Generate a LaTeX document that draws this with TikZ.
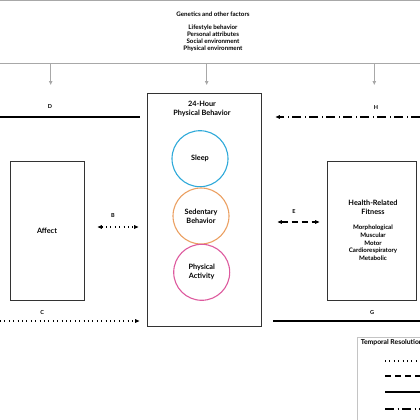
\documentclass[tikz,border=0pt]{standalone}
\usepackage{fontspec}
\setmainfont{Lato}
\usetikzlibrary{arrows.meta,positioning}
\definecolor{FrameGray}{HTML}{333333}
\definecolor{RuleGray}{HTML}{A8A8A8}
\definecolor{LegendGray}{HTML}{C4C4C4}
\definecolor{SleepBlue}{HTML}{2EA9D9}
\definecolor{SedentaryOrange}{HTML}{EBA062}
\definecolor{ActivityPink}{HTML}{DD5A9E}
\tikzset{
  pbox/.style={draw=FrameGray,line width=0.9pt,inner sep=0pt},
  behav/.style={circle,line width=1.1pt,minimum size=56pt,inner sep=0pt,
    align=center,font=\bfseries\fontsize{7.3}{9}\selectfont},
  ttl/.style={align=center,font=\bfseries\fontsize{7.3}{8.8}\selectfont},
  small/.style={align=center,font=\bfseries\fontsize{6.2}{7.1}\selectfont},
  lbl/.style={font=\bfseries\fontsize{5.5}{6}\selectfont},
  link/.style={line width=1.1pt,black},
  oneway/.style={-{Triangle[length=4.5pt,width=3.6pt]}},
  twoway/.style={{Triangle[length=4.5pt,width=3.6pt]}-{Triangle[length=4.5pt,width=3.6pt]}},
  dotline/.style={dash pattern=on 0.9pt off 3.5pt},
  dashline/.style={dash pattern=on 6pt off 4pt},
  dashdotline/.style={dash pattern=on 9pt off 3.5pt on 1pt off 3.5pt},
  factor/.style={RuleGray,line width=0.9pt,-{Triangle[length=4pt,width=3.4pt]}}
}

\begin{document}
\begin{tikzpicture}[x=1pt,y=-1pt]
  \useasboundingbox (0,0) rectangle (420,420);
  \clip (0,0) rectangle (420,420);

  % influencing factors along the top
  \draw[RuleGray,line width=0.8pt] (0,0.7) -- (420,0.7);
  \node[small] (genetics) at (213,14) {Genetics and other factors};
  \node[small] (factors) at (213,38.5)
    {Lifestyle behavior\\Personal attributes\\Social environment\\Physical environment};
  \draw[RuleGray,line width=1pt] (0,63.3) -- (420,63.3);
  \foreach \fx in {50.7,206.7,374.3}
    \draw[factor] (\fx,63.3) -- (\fx,85);

  % the three boxes
  \node[pbox,minimum width=114pt,minimum height=233pt] (behavior) at (204,209.5) {};
  \node[ttl] (behaviortitle) at (202,109) {24-Hour\\Physical Behavior};
  \node[behav,draw=SleepBlue] (sleep) at (200,158.7) {Sleep};
  \node[behav,draw=SedentaryOrange] (sedentary) at (201,216) {Sedentary\\Behavior};
  \node[behav,draw=ActivityPink] (activity) at (201.7,272.3) {Physical\\Activity};

  \node[pbox,minimum width=74pt,minimum height=139pt] (affect) at (47,230.5) {};
  \node[ttl] (affecttitle) at (affect.center) {Affect};

  \node[pbox,minimum width=89pt,minimum height=139pt] (fitness) at (371.5,230.5) {};
  \node[ttl] (fitnesstitle) at (373,207) {Health-Related\\Fitness};
  \node[small,font=\bfseries\fontsize{6.2}{7.7}\selectfont] (components) at (373,243)
    {Morphological\\Muscular\\Motor\\Cardiorespiratory\\Metabolic};

  % pathways
  \coordinate (dstart) at (0,117);
  \coordinate (hstart) at (420,117);
  \coordinate (cstart) at (0,321);
  \coordinate (gend) at (420,321);
  \coordinate (bline) at (0,227);
  \coordinate (eline) at (0,222);

  \draw[link] (dstart) -- ([xshift=-7pt]behavior.west |- dstart);
  \node[lbl] (dlabel) at (50,107) {D};

  \draw[link,dashdotline,oneway] (hstart) -- ([xshift=14pt]behavior.east |- hstart);
  \node[lbl] (hlabel) at (376,107.5) {H};

  \draw[link,dotline,twoway,shorten <=13pt,shorten >=8pt]
    (affect.east |- bline) -- (behavior.west |- bline);
  \node[lbl] (blabel) at (113,215.5) {B};

  \draw[link,dashline,twoway,shorten <=16pt,shorten >=7pt]
    (behavior.east |- eline) -- (fitness.west |- eline);
  \node[lbl] (elabel) at (294,211.5) {E};

  \draw[link,dotline,oneway] (cstart) -- ([xshift=-7pt]behavior.west |- cstart);
  \node[lbl] (clabel) at (42.3,312.5) {C};

  \draw[link] ([xshift=12pt]behavior.east |- gend) -- (gend);
  \node[lbl] (glabel) at (372,312.5) {G};

  % legend
  \draw[LegendGray,line width=0.8pt] (357,337) rectangle (440,440);
  \node[anchor=west,lbl,font=\bfseries\fontsize{6.8}{8}\selectfont] (legendtitle) at (357.3,343) {Temporal Resolution};
  \draw[link,dotline] (385,361) -- (430,361);
  \draw[link,dashline] (385,376) -- (430,376);
  \draw[link] (385,392) -- (430,392);
  \draw[link,dashdotline] (385,409) -- (430,409);
\end{tikzpicture}
\end{document}
